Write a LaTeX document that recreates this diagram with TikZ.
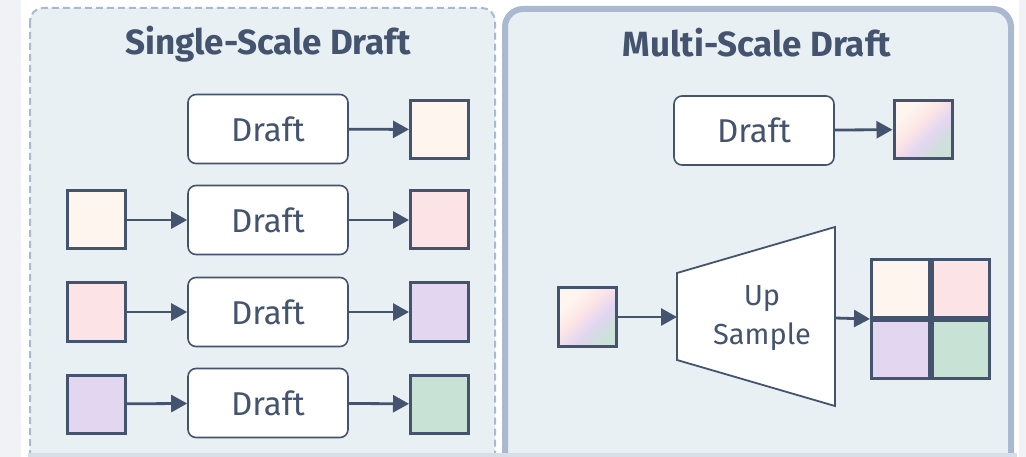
\documentclass[tikz,border=0pt]{standalone}
\usepackage{fontspec}
\setmainfont{Fira Sans}
\usetikzlibrary{arrows.meta}

\definecolor{ink}{RGB}{68,84,110}
\definecolor{panelfill}{RGB}{232,240,244}
\definecolor{panelline}{RGB}{170,185,207}
\definecolor{pagegray}{RGB}{240,242,245}
\definecolor{footstrip}{RGB}{214,222,231}
\definecolor{cream}{RGB}{253,245,238}
\definecolor{rose}{RGB}{252,228,230}
\definecolor{lav}{RGB}{227,214,241}
\definecolor{mint}{RGB}{200,226,214}

% diagonal blend of the four tile colours
\pgfdeclarehorizontalshading{blend}{100bp}{color(0bp)=(cream); color(30bp)=(cream); color(45bp)=(rose); color(58bp)=(lav); color(72bp)=(mint!80!lav); color(100bp)=(mint!80!lav)}

\tikzset{
  stepbox/.style={draw=ink, line width=1.6pt, fill=white, rounded corners=8pt,
    minimum width=160pt, minimum height=69pt, inner sep=0pt,
    font=\fontsize{33}{33}\selectfont, text=ink},
  tile/.style={draw=ink, line width=3pt, minimum size=58pt, inner sep=0pt},
  flow/.style={draw=ink, line width=2.8pt, -{Triangle[length=16pt,width=17pt]}},
  paneltitle/.style={font=\fontsize{35}{35}\selectfont\bfseries, text=ink},
}

\begin{document}
\begin{tikzpicture}[x=1pt, y=-1pt]
  % page background and canvas
  \fill[pagegray] (0,0) rectangle (1026,457);
  \fill[white] (21,0) rectangle (1019,457);
  \useasboundingbox (0,0) rectangle (1026,457);

  % panels (cut off at the bottom edge)
  \begin{scope}
    \clip (0,0) rectangle (1026,453);
    \draw[panelline, fill=panelfill, line width=2pt, dash pattern=on 7pt off 4pt, rounded corners=13pt]
      (30,8) rectangle (495,480);
    \draw[panelline, fill=panelfill, line width=6pt, rounded corners=18pt]
      (505,9) rectangle (1011,480);
  \end{scope}
  \fill[footstrip] (28,453) rectangle (1017,457);

  % titles
  \node[paneltitle] (tsingle) at (268,44) {Single-Scale Draft};
  \node[paneltitle] (tmulti) at (757,43) {Multi-Scale Draft};

  % single-scale rows
  \node[stepbox] (d1) at (268,129) {Draft};
  \node[tile, fill=cream] (o1) at (439.5,129.5) {};

  \node[tile, fill=cream] (i2) at (96,220) {};
  \node[stepbox] (d2) at (268,220) {Draft};
  \node[tile, fill=rose] (o2) at (439.5,220) {};

  \node[tile, fill=rose] (i3) at (96,312) {};
  \node[stepbox] (d3) at (268,312) {Draft};
  \node[tile, fill=lav] (o3) at (439.5,312) {};

  \node[tile, fill=lav] (i4) at (96,404) {};
  \node[stepbox] (d4) at (268,403) {Draft};
  \node[tile, fill=mint] (o4) at (439.5,404) {};

  \draw[flow] (d1) -- (o1);
  \draw[flow] (i2) -- (d2);
  \draw[flow] (d2) -- (o2);
  \draw[flow] (i3) -- (d3);
  \draw[flow] (d3) -- (o3);
  \draw[flow] (i4) -- (d4);
  \draw[flow] (d4) -- (o4);

  % multi-scale: single draft step
  \node[stepbox] (md) at (754,130.5) {Draft};
  \node[tile, shading=blend, shading angle=-45] (mo) at (923,129.5) {};
  \draw[flow] (md) -- (mo);

  % multi-scale: upsampling trapezoid
  \node[tile, shading=blend, shading angle=-45] (mi) at (587.5,317) {};
  \draw[ink, fill=white, line width=1.8pt, line join=miter]
    (677,273) -- (835,227) -- (835,406) -- (677,360) -- cycle;
  \coordinate (upin) at (677,317);
  \coordinate (upout) at (835,318);
  \node[text=ink, font=\fontsize{29}{29}\selectfont, align=center] (uplabel) at (762,318)
    {Up\\[10pt]Sample};

  % 2x2 grid of output tiles
  \node[tile, fill=cream, minimum size=57.5pt] (g1) at (900.25,288.75) {};
  \node[tile, fill=rose, minimum size=57.5pt] (g2) at (960.75,288.75) {};
  \node[tile, fill=lav, minimum size=57.5pt] (g3) at (900.25,349.25) {};
  \node[tile, fill=mint, minimum size=57.5pt] (g4) at (960.75,349.25) {};
  \coordinate (gridin) at (g1.south west);

  \draw[flow] (mi) -- (upin);
  \draw[flow] (upout) -- (gridin);
\end{tikzpicture}
\end{document}
